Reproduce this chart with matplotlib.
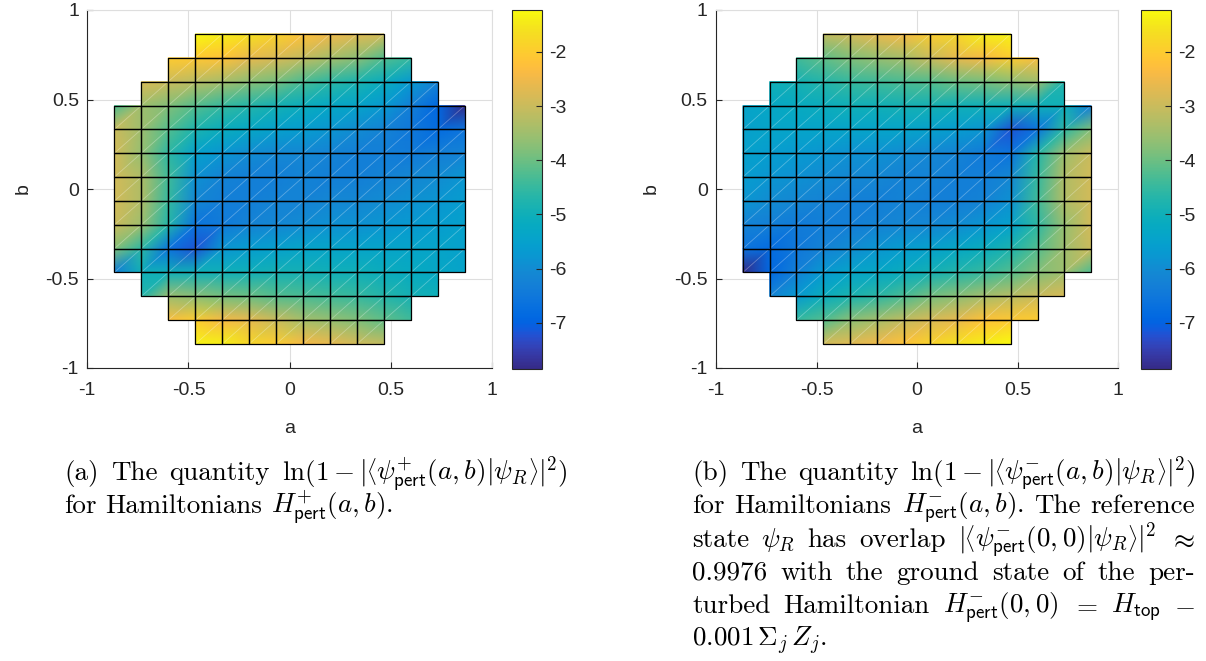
import numpy as np
import matplotlib
matplotlib.use("Agg")
import matplotlib.pyplot as plt
from matplotlib.colors import LinearSegmentedColormap, Normalize
from matplotlib.tri import Triangulation
from matplotlib.collections import PolyCollection, LineCollection
from matplotlib.cm import ScalarMappable

# ---------------- data ----------------
n = np.nan
a_vals = [-0.866, -0.733, -0.600, -0.466, -0.333, -0.200, -0.067,
          0.067, 0.200, 0.333, 0.466, 0.600, 0.733, 0.866]
# rows from top (b = 0.866) to bottom (b = -0.866)
b_vals = [0.866, 0.733, 0.600, 0.466, 0.333, 0.200, 0.067,
          -0.067, -0.200, -0.333, -0.466, -0.600, -0.733, -0.866]

z_plus = [
    [n, n, n, -1.22, -1.4, -1.6, -1.85, -2.2, -2.5, -2.7, -2.9, n, n, n],
    [n, n, -2.0, -2.1, -2.2, -2.6, -2.8, -3.1, -3.4, -3.7, -4.2, -4.5, n, n],
    [n, -2.8, -3.0, -3.2, -3.4, -3.7, -3.9, -4.3, -4.6, -4.8, -5.1, -5.7, -6.2, n],
    [-4.3, -3.5, -3.8, -4.2, -4.5, -4.7, -4.9, -5.1, -5.3, -5.4, -5.7, -6.3, -6.9, -7.85],
    [-3.0, -3.5, -4.2, -4.8, -5.1, -5.3, -5.5, -5.6, -5.8, -6.0, -6.2, -6.5, -6.8, -6.6],
    [-2.9, -3.6, -4.6, -5.5, -5.8, -6.0, -6.1, -6.1, -6.2, -6.3, -6.3, -6.4, -6.3, -6.2],
    [-2.9, -3.3, -4.4, -5.9, -6.2, -6.3, -6.3, -6.2, -6.3, -6.3, -6.2, -6.1, -6.0, -5.8],
    [-2.9, -3.3, -4.5, -6.1, -6.3, -6.3, -6.2, -6.2, -6.1, -6.1, -6.0, -5.9, -5.8, -5.6],
    [-3.0, -3.5, -4.7, -6.6, -6.4, -6.2, -6.1, -6.0, -5.9, -5.9, -5.8, -5.7, -5.6, -5.5],
    [-3.8, -4.6, -6.6, -7.2, -5.8, -5.6, -5.5, -5.4, -5.4, -5.4, -5.4, -5.4, -5.4, -5.5],
    [-6.4, -5.0, -5.0, -5.0, -5.0, -5.0, -4.9, -4.9, -5.0, -5.0, -5.1, -5.2, -5.3, -5.4],
    [n, -4.7, -3.5, -3.7, -3.9, -4.0, -4.2, -4.3, -4.4, -4.5, -4.7, -4.9, -5.0, n],
    [n, n, -2.3, -2.0, -2.4, -2.6, -3.0, -3.4, -3.6, -3.8, -4.1, -4.4, n, n],
    [n, n, n, -1.3, -1.4, -1.8, -2.0, -2.4, -2.6, -2.9, -3.1, n, n, n],
]

z_minus = [
    [n, n, n, -3.1, -2.9, -2.6, -2.4, -2.0, -1.8, -1.4, -1.3, n, n, n],
    [n, n, -4.4, -4.1, -3.8, -3.6, -3.4, -3.0, -2.6, -2.4, -2.0, -2.3, n, n],
    [n, -5.0, -4.9, -4.7, -4.5, -4.4, -4.3, -4.2, -4.0, -3.9, -3.7, -3.5, -4.7, n],
    [-5.4, -5.3, -5.2, -5.1, -5.0, -5.0, -4.9, -4.9, -5.0, -5.0, -5.0, -5.0, -5.0, -6.4],
    [-5.5, -5.4, -5.4, -5.4, -5.4, -5.4, -5.4, -5.5, -5.6, -5.8, -7.2, -6.6, -4.6, -3.8],
    [-5.5, -5.6, -5.7, -5.8, -5.9, -5.9, -6.0, -6.1, -6.2, -6.4, -6.6, -4.7, -3.5, -3.0],
    [-5.6, -5.8, -5.9, -6.0, -6.1, -6.1, -6.2, -6.2, -6.3, -6.3, -6.1, -4.5, -3.3, -2.9],
    [-5.8, -6.0, -6.1, -6.2, -6.3, -6.3, -6.2, -6.3, -6.3, -6.2, -5.9, -4.4, -3.3, -2.9],
    [-6.2, -6.3, -6.4, -6.3, -6.3, -6.2, -6.1, -6.1, -6.0, -5.8, -5.5, -4.6, -3.6, -2.9],
    [-6.6, -6.8, -6.5, -6.2, -6.0, -5.8, -5.6, -5.5, -5.3, -5.1, -4.8, -4.2, -3.5, -3.0],
    [-7.85, -6.9, -6.3, -5.7, -5.4, -5.3, -5.1, -4.9, -4.7, -4.5, -4.2, -3.8, -3.5, -4.3],
    [n, -6.2, -5.7, -5.1, -4.8, -4.6, -4.3, -3.9, -3.7, -3.4, -3.2, -3.0, -2.8, n],
    [n, n, -4.5, -4.2, -3.7, -3.4, -3.1, -2.8, -2.6, -2.2, -2.1, -2.0, n, n],
    [n, n, n, -2.9, -2.7, -2.5, -2.2, -1.85, -1.6, -1.4, -1.22, n, n, n],
]

tick_vals = [-1, -0.5, 0, 0.5, 1]
tick_labels = ["-1", "-0.5", "0", "0.5", "1"]
cbar_ticks = [-7, -6, -5, -4, -3, -2]
cbar_labels = ["-7", "-6", "-5", "-4", "-3", "-2"]

# MATLAB parula (64 entries)
parula = [
    [0.2081, 0.1663, 0.5292], [0.2116, 0.1898, 0.5777], [0.2123, 0.2138, 0.6270],
    [0.2081, 0.2386, 0.6771], [0.1959, 0.2645, 0.7279], [0.1707, 0.2919, 0.7792],
    [0.1253, 0.3242, 0.8303], [0.0591, 0.3598, 0.8683], [0.0117, 0.3875, 0.8820],
    [0.0060, 0.4086, 0.8828], [0.0165, 0.4266, 0.8786], [0.0329, 0.4430, 0.8720],
    [0.0498, 0.4586, 0.8641], [0.0629, 0.4737, 0.8554], [0.0723, 0.4887, 0.8467],
    [0.0779, 0.5040, 0.8384], [0.0793, 0.5200, 0.8312], [0.0749, 0.5375, 0.8263],
    [0.0641, 0.5570, 0.8240], [0.0488, 0.5772, 0.8228], [0.0343, 0.5966, 0.8199],
    [0.0265, 0.6137, 0.8135], [0.0239, 0.6287, 0.8038], [0.0231, 0.6418, 0.7913],
    [0.0228, 0.6535, 0.7768], [0.0267, 0.6642, 0.7607], [0.0384, 0.6743, 0.7436],
    [0.0590, 0.6838, 0.7254], [0.0843, 0.6928, 0.7062], [0.1133, 0.7015, 0.6859],
    [0.1453, 0.7098, 0.6646], [0.1801, 0.7177, 0.6424], [0.2178, 0.7250, 0.6193],
    [0.2586, 0.7317, 0.5954], [0.3022, 0.7376, 0.5712], [0.3482, 0.7424, 0.5473],
    [0.3953, 0.7459, 0.5244], [0.4420, 0.7481, 0.5033], [0.4871, 0.7491, 0.4840],
    [0.5300, 0.7491, 0.4661], [0.5709, 0.7485, 0.4494], [0.6099, 0.7473, 0.4337],
    [0.6473, 0.7456, 0.4188], [0.6834, 0.7435, 0.4044], [0.7184, 0.7411, 0.3905],
    [0.7525, 0.7384, 0.3768], [0.7858, 0.7356, 0.3633], [0.8185, 0.7327, 0.3498],
    [0.8507, 0.7299, 0.3360], [0.8824, 0.7274, 0.3217], [0.9139, 0.7258, 0.3063],
    [0.9450, 0.7261, 0.2886], [0.9739, 0.7314, 0.2666], [0.9938, 0.7455, 0.2403],
    [0.9990, 0.7653, 0.2164], [0.9955, 0.7861, 0.1967], [0.9880, 0.8066, 0.1794],
    [0.9789, 0.8271, 0.1633], [0.9697, 0.8481, 0.1475], [0.9626, 0.8705, 0.1309],
    [0.9589, 0.8949, 0.1132], [0.9598, 0.9218, 0.0948], [0.9661, 0.9514, 0.0755],
    [0.9763, 0.9831, 0.0538],
]

# ---------------- style ----------------
plt.rcParams["font.family"] = ["Liberation Sans", "DejaVu Sans"]
plt.rcParams["mathtext.fontset"] = "cm"
plt.rcParams["axes.unicode_minus"] = False

W_PX, H_PX = 1206, 661
fig = plt.figure(figsize=(W_PX / 100, H_PX / 100), dpi=100)
cmap = LinearSegmentedColormap.from_list("parula", parula, N=256)
AXC = (0.15, 0.15, 0.15)
TICK_FS = 14


def fx(px):
    return px / W_PX


def fy(py):
    return 1 - py / H_PX


def panel(x0, x1, cx0, cx1, Z):
    Z = np.array(Z, dtype=float)
    ax = fig.add_axes([fx(x0), fy(368), fx(x1) - fx(x0), fy(10) - fy(368)])
    cax = fig.add_axes([fx(cx0), fy(369), fx(cx1) - fx(cx0), fy(9.5) - fy(369)])
    A, B = np.meshgrid(np.array(a_vals), np.array(b_vals))
    valid = ~np.isnan(Z)
    idx = -np.ones(Z.shape, dtype=int)
    idx[valid] = np.arange(valid.sum())
    tris, cells, diags = [], [], []
    nr, nc = Z.shape
    for r in range(nr - 1):
        for q in range(nc - 1):
            if valid[r, q] and valid[r, q + 1] and valid[r + 1, q] and valid[r + 1, q + 1]:
                tl, tr = idx[r, q], idx[r, q + 1]
                bl, br = idx[r + 1, q], idx[r + 1, q + 1]
                tris.append([bl, br, tr])
                tris.append([bl, tr, tl])
                cells.append([(A[r + 1, q], B[r + 1, q]), (A[r + 1, q + 1], B[r + 1, q + 1]),
                              (A[r, q + 1], B[r, q + 1]), (A[r, q], B[r, q])])
                diags.append([(A[r + 1, q], B[r + 1, q]), (A[r, q + 1], B[r, q + 1])])
    tri = Triangulation(A[valid], B[valid], tris)
    vmin, vmax = np.nanmin(Z), np.nanmax(Z)
    norm = Normalize(vmin, vmax)
    ax.tripcolor(tri, Z[valid], shading="gouraud", cmap=cmap, norm=norm, zorder=2)
    ax.add_collection(LineCollection(diags, colors="white", alpha=0.3,
                                     linewidths=0.6, zorder=3))
    ax.add_collection(PolyCollection(cells, facecolors="none", edgecolors="black",
                                     linewidths=0.9, zorder=4))
    ax.set_xlim(-1, 1)
    ax.set_ylim(-1, 1)
    ax.set_xticks(tick_vals)
    ax.set_xticklabels(tick_labels)
    ax.set_yticks(tick_vals)
    ax.set_yticklabels(tick_labels)
    ax.grid(True, color=(0.87, 0.87, 0.87), linewidth=0.8, zorder=0)
    ax.set_axisbelow(True)
    for s in ["top", "right"]:
        ax.spines[s].set_color((0.87, 0.87, 0.87))
        ax.spines[s].set_linewidth(0.8)
    for s in ["left", "bottom"]:
        ax.spines[s].set_color(AXC)
        ax.spines[s].set_linewidth(0.8)
    ax.tick_params(direction="in", length=4, width=0.8, color=AXC,
                   labelsize=TICK_FS, labelcolor=AXC)
    ax.tick_params(axis="x", pad=10)
    ax.tick_params(axis="y", pad=6)
    ax.set_xlabel("a", fontsize=TICK_FS, color=AXC, labelpad=15)
    ax.set_ylabel("b", fontsize=TICK_FS, color=AXC, labelpad=10)

    sm = ScalarMappable(norm=norm, cmap=cmap)
    cb = fig.colorbar(sm, cax=cax)
    cb.set_ticks(cbar_ticks)
    cb.set_ticklabels(cbar_labels)
    cb.outline.set_edgecolor(AXC)
    cb.outline.set_linewidth(0.8)
    cax.tick_params(direction="in", length=4, width=0.8, color=AXC,
                    labelsize=TICK_FS, labelcolor=AXC, pad=5)
    return ax


panel(87.3, 492, 512, 542, z_plus)
panel(716, 1118, 1140.7, 1170.7, z_minus)

# ---------------- captions ----------------
CAP_FS = 19.5
ANG = 0.8  # size factor for the angle brackets
renderer = fig.canvas.get_renderer()


def justify_line(tokens, x0, x1, y, justify=True):
    groups = []
    for tok in tokens:
        pieces = [(tok, 1.0)] if isinstance(tok, str) else tok
        objs = []
        for s, f in pieces:
            t = fig.text(0, fy(y), s, fontsize=CAP_FS * f, family="cmr10",
                         va="baseline", ha="left")
            objs.append((t, t.get_window_extent(renderer).width))
        groups.append(objs)
    widths = [sum(w for _, w in g) for g in groups]
    normal = CAP_FS * 1.389 * 0.333
    if justify and len(tokens) > 1:
        gap = max((x1 - x0 - sum(widths)) / (len(tokens) - 1), 3.0)
    else:
        gap = normal
    x = x0
    for g, w in zip(groups, widths):
        xx = x
        for t, pw in g:
            t.set_x(fx(xx))
            xx += pw
        x += w + gap


def bracket(sign, args, lead=r"$|$"):
    return [(lead, 1.0), (r"$\langle$", ANG),
            (r"$\psi^{%s}_{\mathsf{pert}}(%s)|\psi_R$" % (sign, args), 1.0),
            (r"$\rangle$", ANG), (r"$|^2$", 1.0)]


def ln_expr(sign):
    return bracket(sign, "a,b", lead=r"$\ln(1-|$") + [(r"$)$", 1.0)]


CAP_W = 503
cap_a = [
    (["(a)", "The", "quantity", ln_expr("+")], True),
    (["for", "Hamiltonians", r"$H^{+}_{\mathsf{pert}}(a,b)$."], False),
]
cap_b = [
    (["(b)", "The", "quantity", ln_expr("-")], True),
    (["for", "Hamiltonians", r"$H^{-}_{\mathsf{pert}}(a,b)$.", "The", "reference"], True),
    (["state", r"$\psi_R$", "has", "overlap", bracket("-", "0,0"), r"$\approx$"], True),
    (["0.9976", "with", "the", "ground", "state", "of", "the", "per-"], True),
    (["turbed", "Hamiltonian", r"$H^{-}_{\mathsf{pert}}(0,0)$", r"$=$",
      r"$H_{\mathsf{top}}$", r"$-$"], True),
    ([r"$0.001\,\Sigma_j\,Z_j$."], False),
]
BASE0, LSTEP = 480, 33.3
for k, (toks, j) in enumerate(cap_a):
    justify_line(toks, 64, 64 + CAP_W, BASE0 + k * LSTEP, j)
for k, (toks, j) in enumerate(cap_b):
    justify_line(toks, 692, 692 + CAP_W, BASE0 + k * LSTEP, j)

fig.savefig("out.png", dpi=100)
